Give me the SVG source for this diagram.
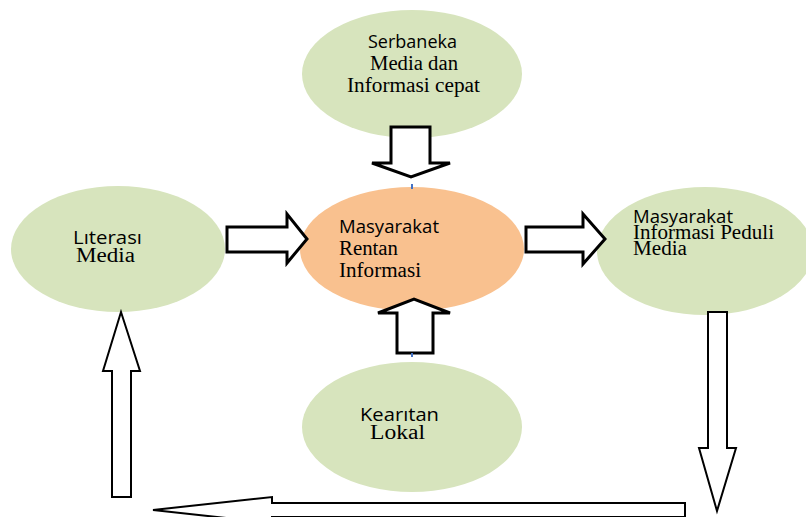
<svg xmlns="http://www.w3.org/2000/svg" width="806" height="517" viewBox="0 0 806 517">
<style>
.green{fill:#D7E4BD;}
.orange{fill:#F9C18F;}
.arr{fill:#FFFFFF;stroke:#000000;stroke-linejoin:miter;}
.thick{stroke-width:3;}
.thin{stroke-width:2;}
.sans{font-family:"Open Sans","Noto Sans","DejaVu Sans",sans-serif;font-size:18px;fill:#000000;}
.serif{font-family:"Liberation Serif","Times New Roman",serif;font-size:20px;fill:#000000;}
.tick{stroke:#4472C4;stroke-width:2;}
</style>
<rect width="806" height="517" fill="#FFFFFF"/>
<g id="node-serbaneka">
<ellipse class="green" cx="412" cy="74" rx="110" ry="64"/>
<text class="sans" x="368" y="48" textLength="89" lengthAdjust="spacingAndGlyphs">Serbaneka</text>
<text class="serif" x="370" y="70" textLength="88" lengthAdjust="spacingAndGlyphs">Media dan</text>
<text class="serif" x="347" y="92" textLength="133" lengthAdjust="spacingAndGlyphs">Informasi cepat</text>
</g>
<g id="node-rentan">
<ellipse class="orange" cx="412" cy="249" rx="112" ry="62"/>
<text class="sans" x="339" y="233" textLength="100" lengthAdjust="spacingAndGlyphs">Masyarakat</text>
<text class="serif" x="339" y="255" textLength="59" lengthAdjust="spacingAndGlyphs">Rentan</text>
<text class="serif" x="339" y="277" textLength="82" lengthAdjust="spacingAndGlyphs">Informasi</text>
</g>
<g id="node-literasi">
<ellipse class="green" cx="118" cy="249" rx="107" ry="63"/>
<text class="sans" x="73" y="244" textLength="69" lengthAdjust="spacingAndGlyphs">Lıterası</text>
<text class="serif" x="76" y="262" textLength="59" lengthAdjust="spacingAndGlyphs">Media</text>
</g>
<g id="node-peduli">
<ellipse class="green" cx="705" cy="251" rx="108" ry="64"/>
<text class="sans" x="633" y="223" textLength="100" lengthAdjust="spacingAndGlyphs">Masyarakat</text>
<text class="serif" x="633" y="239" textLength="141" lengthAdjust="spacingAndGlyphs">Informasi Peduli</text>
<text class="serif" x="633" y="255" textLength="54" lengthAdjust="spacingAndGlyphs">Media</text>
</g>
<g id="node-kearifan">
<ellipse class="green" cx="412" cy="427" rx="110" ry="65"/>
<text class="sans" x="360" y="421" textLength="79" lengthAdjust="spacingAndGlyphs">Kearıtan</text>
<text class="serif" x="370" y="439" textLength="55" lengthAdjust="spacingAndGlyphs">Lokal</text>
</g>
<g id="connectors">
<path class="arr thick" d="M391,127 H430 V163 H450 L411,177 L372,163 H391 Z"/>
<path class="arr thick" d="M397,353 V313 H378 L414,299 L450,313 H433 V353 Z"/>
<path class="arr thick" d="M227,227 H287 V214 L307,239 L287,263 V252 H227 Z"/>
<path class="arr thick" d="M526,227 H583 V214 L605,239 L583,264 V252 H526 Z"/>
<path class="arr thin" d="M708,312 H727 V448 H736 L717,511 L699,448 H708 Z"/>
<path class="arr thin" d="M112,497 V371 H103 L121,312 L140,371 H131 V497 Z"/>
<path class="arr thin" d="M685,503 V517 H272 V523 L153,510 L272,497 V503 Z"/>
<line class="tick" x1="412" y1="184" x2="412" y2="189"/>
<line class="tick" x1="412" y1="353" x2="412" y2="357"/>
</g>
</svg>
